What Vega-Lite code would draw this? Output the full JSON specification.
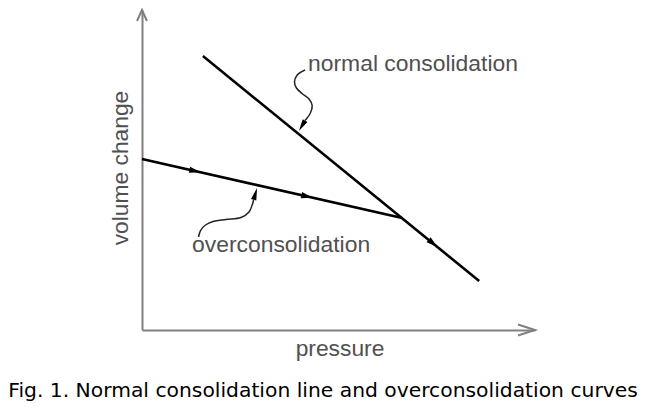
{
  "$schema": "https://vega.github.io/schema/vega-lite/v6.json",
  "width": 393,
  "height": 320,
  "autosize": {"type": "none"},
  "padding": {"left": 142, "top": 10, "right": 117, "bottom": 85},
  "background": "white",
  "config": {"view": {"stroke": null}},
  "title": {
    "text": "Fig. 1. Normal consolidation line and overconsolidation curves",
    "orient": "bottom",
    "anchor": "middle",
    "dx": -15.5,
    "offset": 21,
    "font": "DejaVu Sans",
    "fontSize": 20.3,
    "fontWeight": "normal",
    "color": "black"
  },
  "datasets": {
    "curves": [
      {"id": "normal", "kind": "main", "i": 0, "x": 1.55, "y": 8.56},
      {"id": "normal", "kind": "main", "i": 1, "x": 8.58, "y": 1.53},
      {"id": "over", "kind": "main", "i": 0, "x": 0, "y": 5.344},
      {"id": "over", "kind": "main", "i": 1, "x": 6.62, "y": 3.50},
      {"id": "leadN", "kind": "leader", "i": 0, "x": 4.148, "y": 8.125},
      {"id": "leadN", "kind": "leader", "i": 1, "x": 3.95, "y": 7.969},
      {"id": "leadN", "kind": "leader", "i": 2, "x": 3.88, "y": 7.75},
      {"id": "leadN", "kind": "leader", "i": 3, "x": 3.93, "y": 7.5625},
      {"id": "leadN", "kind": "leader", "i": 4, "x": 4.071, "y": 7.391},
      {"id": "leadN", "kind": "leader", "i": 5, "x": 4.25, "y": 7.219},
      {"id": "leadN", "kind": "leader", "i": 6, "x": 4.33, "y": 7.016},
      {"id": "leadN", "kind": "leader", "i": 7, "x": 4.285, "y": 6.781},
      {"id": "leadN", "kind": "leader", "i": 8, "x": 4.148, "y": 6.544},
      {"id": "leadO", "kind": "leader", "i": 0, "x": 1.438, "y": 2.906},
      {"id": "leadO", "kind": "leader", "i": 1, "x": 1.489, "y": 3.109},
      {"id": "leadO", "kind": "leader", "i": 2, "x": 1.616, "y": 3.281},
      {"id": "leadO", "kind": "leader", "i": 3, "x": 1.807, "y": 3.391},
      {"id": "leadO", "kind": "leader", "i": 4, "x": 2.137, "y": 3.453},
      {"id": "leadO", "kind": "leader", "i": 5, "x": 2.519, "y": 3.516},
      {"id": "leadO", "kind": "leader", "i": 6, "x": 2.723, "y": 3.688},
      {"id": "leadO", "kind": "leader", "i": 7, "x": 2.812, "y": 3.938},
      {"id": "leadO", "kind": "leader", "i": 8, "x": 2.842, "y": 4.078},
      {"id": "arrY", "kind": "axis", "i": 0, "x": -0.127, "y": 9.656},
      {"id": "arrY", "kind": "axis", "i": 1, "x": 0, "y": 10},
      {"id": "arrY", "kind": "axis", "i": 2, "x": 0.127, "y": 9.656},
      {"id": "arrX", "kind": "axis", "i": 0, "x": 9.567, "y": 0.172},
      {"id": "arrX", "kind": "axis", "i": 1, "x": 10, "y": 0},
      {"id": "arrX", "kind": "axis", "i": 2, "x": 9.567, "y": -0.172}
    ],
    "heads": [
      {"on": "over", "x": 1.349, "y": 4.968},
      {"on": "over", "x": 4.198, "y": 4.175},
      {"on": "normal", "x": 7.405, "y": 2.709},
      {"on": "leadN", "x": 4.071, "y": 6.381},
      {"on": "leadO", "x": 2.884, "y": 4.256}
    ],
    "labels": [
      {"label": "normal consolidation", "x": 4.224, "y": 8.094},
      {"label": "overconsolidation", "x": 1.272, "y": 2.4375}
    ]
  },
  "encoding": {
    "x": {
      "field": "x", "type": "quantitative",
      "scale": {"domain": [0, 10], "nice": false, "zero": false},
      "axis": {
        "title": "pressure", "domain": true, "domainColor": "#808080", "domainWidth": 2,
        "ticks": false, "labels": false, "grid": false,
        "titleX": 197.5, "titleY": 25, "titleBaseline": "alphabetic", "titleAlign": "center",
        "titleFont": "Liberation Sans", "titleFontSize": 22.8, "titleFontWeight": "normal", "titleColor": "#505050"
      }
    },
    "y": {
      "field": "y", "type": "quantitative",
      "scale": {"domain": [0, 10], "nice": false, "zero": false},
      "axis": {
        "title": "volume change", "domain": true, "domainColor": "#808080", "domainWidth": 2,
        "ticks": false, "labels": false, "grid": false,
        "titleX": -15, "titleY": 157.5, "titleAngle": -90, "titleBaseline": "alphabetic", "titleAlign": "center",
        "titleFont": "Liberation Sans", "titleFontSize": 22.8, "titleFontWeight": "normal", "titleColor": "#505050"
      }
    }
  },
  "layer": [
    {
      "data": {"name": "curves"},
      "transform": [{"filter": "datum.kind === 'main'"}],
      "mark": {"type": "line", "color": "black", "strokeWidth": 2.6},
      "encoding": {"detail": {"field": "id"}, "order": {"field": "i"}}
    },
    {
      "data": {"name": "curves"},
      "transform": [{"filter": "datum.kind === 'leader'"}],
      "mark": {"type": "line", "color": "#222222", "strokeWidth": 1.5, "interpolate": "catmull-rom"},
      "encoding": {"detail": {"field": "id"}, "order": {"field": "i"}}
    },
    {
      "data": {"name": "curves"},
      "transform": [{"filter": "datum.kind === 'axis'"}],
      "mark": {"type": "line", "color": "#808080", "strokeWidth": 2},
      "encoding": {"detail": {"field": "id"}, "order": {"field": "i"}}
    },
    {
      "data": {"name": "heads"},
      "transform": [{"filter": "datum.on === 'over'"}],
      "mark": {"type": "point", "shape": "M1,0L-1,-0.55L-1,0.55Z", "filled": true, "color": "black", "opacity": 1, "size": 130, "angle": 12.6}
    },
    {
      "data": {"name": "heads"},
      "transform": [{"filter": "datum.on === 'normal'"}],
      "mark": {"type": "point", "shape": "M1,0L-1,-0.55L-1,0.55Z", "filled": true, "color": "black", "opacity": 1, "size": 130, "angle": 39.2}
    },
    {
      "data": {"name": "heads"},
      "transform": [{"filter": "datum.on === 'leadN'"}],
      "mark": {"type": "point", "shape": "M1,0L-1,-0.45L-1,0.45Z", "filled": true, "color": "black", "opacity": 1, "size": 150, "angle": 120}
    },
    {
      "data": {"name": "heads"},
      "transform": [{"filter": "datum.on === 'leadO'"}],
      "mark": {"type": "point", "shape": "M1,0L-1,-0.45L-1,0.45Z", "filled": true, "color": "black", "opacity": 1, "size": 150, "angle": 286}
    },
    {
      "data": {"name": "labels"},
      "mark": {"type": "text", "align": "left", "baseline": "alphabetic", "font": "Liberation Sans", "fontSize": 22.9, "color": "#505050"},
      "encoding": {"text": {"field": "label"}}
    }
  ]
}
